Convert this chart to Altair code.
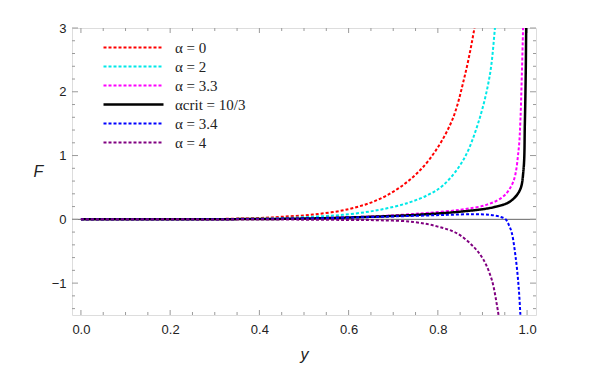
import altair as alt
import pandas as pd

# ---- data ----
series_names = ["α = 0", "α = 2", "α = 3.3", "αcrit = 10/3", "α = 3.4", "α = 4"]
colors = ["#ff0000", "#00e8e8", "#ff00ff", "#000000", "#0000ff", "#800080"]

y_red = [0.0, 0.1, 0.2, 0.3, 0.4, 0.45, 0.52, 0.6, 0.67, 0.73, 0.78, 0.83, 0.86, 0.882, 0.89]
F_red = [0.0, 0.0, 0.001, 0.005, 0.02, 0.04, 0.075, 0.16, 0.32, 0.58, 0.93, 1.52, 2.24, 3.0, 3.4]

y_cyan = [0.0, 0.2, 0.3, 0.4, 0.52, 0.6, 0.67, 0.734, 0.78, 0.813, 0.857, 0.89, 0.916, 0.928, 0.933]
F_cyan = [0.0, 0.0, 0.002, 0.01, 0.04, 0.08, 0.15, 0.26, 0.39, 0.54, 0.93, 1.5, 2.24, 3.0, 3.4]

y_mag = [0.0, 0.3, 0.5, 0.65, 0.738, 0.775, 0.85, 0.91, 0.947, 0.969, 0.981, 0.985, 0.988, 0.991, 0.992]
F_mag = [0.0, 0.002, 0.015, 0.045, 0.08, 0.10, 0.15, 0.23, 0.36, 0.59, 1.09, 1.55, 2.2, 3.0, 3.4]

y_crit = [0.0, 0.3, 0.5, 0.65, 0.738, 0.775, 0.85, 0.925, 0.962, 0.984, 0.992, 0.995, 0.997, 0.998, 0.999]
F_crit = [0.0, 0.002, 0.012, 0.04, 0.065, 0.08, 0.12, 0.19, 0.28, 0.46, 0.78, 1.5, 2.3, 3.0, 3.5]

y_blue = [0.0, 0.3, 0.5, 0.671, 0.75, 0.82, 0.88, 0.917, 0.94, 0.952, 0.96, 0.966, 0.975, 0.981, 0.985, 0.987]
F_blue = [0.0, 0.002, 0.012, 0.04, 0.055, 0.07, 0.08, 0.07, 0.04, 0.0, -0.1, -0.22, -0.63, -1.05, -1.5, -1.8]

y_purp = [0.0, 0.3, 0.5, 0.6, 0.671, 0.745, 0.798, 0.843, 0.88, 0.902, 0.921, 0.933, 0.936, 0.94]
F_purp = [0.0, -0.001, -0.005, -0.01, -0.015, -0.04, -0.11, -0.22, -0.43, -0.63, -0.95, -1.37, -1.5, -1.8]

x_major = [0.0, 0.2, 0.4, 0.6, 0.8, 1.0]
x_minor = [0.05, 0.1, 0.15, 0.25, 0.3, 0.35, 0.45, 0.5, 0.55, 0.65, 0.7, 0.75, 0.85, 0.9, 0.95]
y_major = [-1, 0, 1, 2, 3]
y_minor = [-1.4, -1.2, -0.8, -0.6, -0.4, -0.2, 0.2, 0.4, 0.6, 0.8, 1.2, 1.4, 1.6, 1.8,
           2.2, 2.4, 2.6, 2.8]

X_DOMAIN = [-0.02, 1.02]
Y_DOMAIN = [-1.5, 3]

all_x = [y_red, y_cyan, y_mag, y_crit, y_blue, y_purp]
all_F = [F_red, F_cyan, F_mag, F_crit, F_blue, F_purp]

rows = []
for name, xs_, fs_ in zip(series_names, all_x, all_F):
    for i, (a, b) in enumerate(zip(xs_, fs_)):
        rows.append({"y": a, "F": b, "series": name, "i": i})
df = pd.DataFrame(rows)

# ---- styling ----
dashes = [[3, 2], [3, 2], [3, 2], [1, 0], [3, 2], [3, 2]]
widths = [2, 2, 2, 2.5, 2, 2]
TICK = "#9a9a9a"
FRAME = "#8a8a8a"

xs = alt.Scale(domain=X_DOMAIN, nice=False, zero=False)
ys = alt.Scale(domain=Y_DOMAIN, nice=False, zero=False)

legend = alt.Legend(
    title=None, orient="none", legendX=30, legendY=10,
    symbolType="stroke", symbolSize=3600, clipHeight=19, rowPadding=0,
    labelFont="Liberation Serif", labelFontSize=15, labelColor="#222",
    labelOffset=10,
)

lines = alt.Chart(df).mark_line(clip=True, interpolate="catmull-rom").encode(
    x=alt.X("y:Q", scale=xs, axis=alt.Axis(
        title="y", values=x_major, format=".1f", ticks=False, domain=False, grid=False,
        labelPadding=8, labelFont="Liberation Sans", labelFontSize=13, labelColor="#222",
        titleFont="Liberation Sans", titleFontStyle="italic", titleFontWeight="normal",
        titleFontSize=16, titleColor="#222", titlePadding=10)),
    y=alt.Y("F:Q", scale=ys, axis=alt.Axis(
        title="F", values=y_major, ticks=False, domain=False, grid=False,
        labelPadding=6, labelFont="Liberation Sans", labelFontSize=13, labelColor="#222",
        titleFont="Liberation Sans", titleFontStyle="italic", titleFontWeight="normal",
        titleFontSize=16, titleColor="#222", titleAngle=0, titleAlign="center",
        titleBaseline="middle", titleX=-34, titleY=143)),
    color=alt.Color("series:N", scale=alt.Scale(domain=series_names, range=colors), legend=legend),
    strokeDash=alt.StrokeDash("series:N", scale=alt.Scale(domain=series_names, range=dashes), legend=legend),
    strokeWidth=alt.StrokeWidth("series:N", scale=alt.Scale(type="ordinal", domain=series_names, range=widths), legend=legend),
    order="i:Q",
)

zero = alt.Chart(pd.DataFrame({"F": [0]})).mark_rule(color="#666", strokeWidth=1).encode(
    y=alt.Y("F:Q", scale=ys, axis=None)
)


# inward frame ticks drawn as short rules at the domain edges
def xticks(vals, edge, length):
    return alt.Chart(pd.DataFrame({"t": vals})).mark_rule(
        color=TICK, strokeWidth=1, y2Offset=length
    ).encode(
        x=alt.X("t:Q", scale=xs, axis=None),
        y=alt.Y(datum=edge, scale=ys, axis=None),
        y2=alt.Y2(datum=edge),
    )


def yticks(vals, edge, length):
    return alt.Chart(pd.DataFrame({"t": vals})).mark_rule(
        color=TICK, strokeWidth=1, x2Offset=length
    ).encode(
        y=alt.Y("t:Q", scale=ys, axis=None),
        x=alt.X(datum=edge, scale=xs, axis=None),
        x2=alt.X2(datum=edge),
    )


ticks = [
    xticks(x_major, Y_DOMAIN[0], -5), xticks(x_minor, Y_DOMAIN[0], -3),
    xticks(x_major, Y_DOMAIN[1], 5), xticks(x_minor, Y_DOMAIN[1], 3),
    yticks(y_major, X_DOMAIN[0], 6), yticks(y_minor, X_DOMAIN[0], 3),
    yticks(y_major, X_DOMAIN[1], -6), yticks(y_minor, X_DOMAIN[1], -3),
]

chart = alt.layer(zero, *ticks, lines).resolve_axis(
    x="independent", y="independent"
).properties(
    width=464, height=287,
    autosize=alt.AutoSizeParams(type="none"),
    padding={"left": 64, "top": 20, "right": 50, "bottom": 50},
).configure_view(stroke=FRAME, strokeWidth=1).configure(background="white")

chart.save("out.html", embed_options={"renderer": "svg", "actions": False})
